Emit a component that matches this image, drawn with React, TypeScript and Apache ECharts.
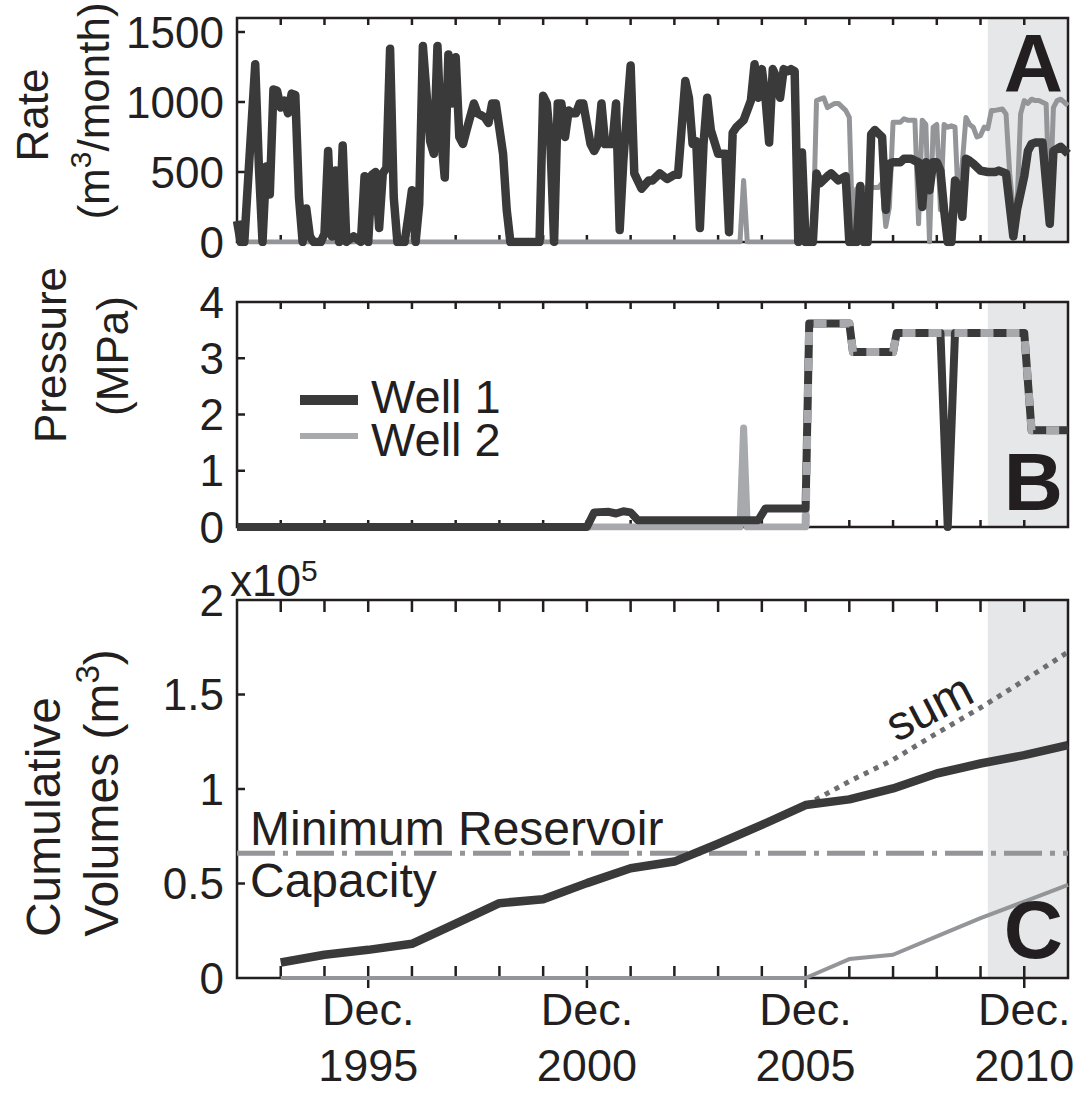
import React, { useEffect, useRef } from "react";
import * as echarts from "echarts";

// x values are month indices counted from Dec. 1992 (0) to Dec. 2011 (228)
const xMonthMax = 228;
const yearTickMonths = [12, 24, 36, 48, 60, 72, 84, 96, 108, 120, 132, 144, 156, 168, 180, 192, 204, 216];
const labelMonths = [36, 96, 156, 216]; // Dec. 1995, 2000, 2005, 2010
const shadedStartMonth = 206;

// Panel A: injection rate (m3/month)
const rateWell1: [number, number][] = [
  [0,150],[1,0],[2,0],[5,1270],[6,540],[7,0],[8,540],[9,340],[10,1090],[11,1080],[12,960],[13,1010],[14,920],[15,1060],[16,1050],[17,320],[18,0],[19,240],[20,40],[21,0],[23,0],[24,60],[25,650],[26,40],[27,510],[28,0],[29,690],[30,0],[32,40],[34,0],[35,470],[36,0],[37,480],[38,500],[39,100],[40,490],[41,530],[42,1380],[43,320],[44,0],[46,0],[47,180],[48,370],[49,0],[50,270],[51,1400],[52,1060],[53,720],[54,630],[55,1400],[56,750],[57,460],[58,1340],[59,990],[60,1320],[61,750],[62,700],[63,800],[65,990],[66,920],[68,890],[69,850],[70,990],[71,990],[73,630],[74,230],[75,0],[83,0],[84,1045],[85,990],[86,700],[87,0],[88,990],[89,990],[90,750],[91,940],[92,920],[93,920],[94,990],[95,990],[97,700],[98,650],[99,700],[100,990],[101,700],[103,700],[104,990],[105,85],[106,580],[108,1260],[109,490],[111,380],[113,440],[114,440],[116,490],[118,450],[120,480],[121,480],[123,1150],[124,1030],[125,700],[126,720],[127,100],[128,700],[129,1030],[130,800],[132,630],[134,630],[135,70],[136,780],[137,820],[139,870],[141,1010],[142,1270],[143,1030],[144,1235],[145,1030],[146,710],[147,1235],[148,1175],[149,1030],[150,1235],[151,1220],[152,1235],[153,1220],[154,0],[155,640],[156,0],[158,0],[159,490],[160,420],[162,470],[163,490],[165,440],[167,470],[168,0],[170,0],[171,400],[172,0],[173,0],[174,770],[175,800],[177,750],[178,230],[179,560],[180,570],[182,570],[183,595],[185,595],[186,580],[187,570],[188,250],[189,570],[190,370],[191,570],[192,570],[193,510],[194,230],[195,0],[196,0],[197,440],[198,390],[199,180],[200,595],[201,580],[202,560],[204,510],[206,500],[208,500],[209,510],[211,490],[213,40],[214,230],[216,470],[217,650],[218,700],[219,710],[221,710],[223,130],[224,650],[226,680],[228,630]
];
const rateWell2: [number, number][] = [
  [0,0],[138,0],[139,440],[140,0],[158,0],[159,1010],[160,1020],[161,1030],[162,960],[164,990],[165,990],[167,940],[168,890],[169,0],[170,380],[174,390],[176,390],[177,420],[178,110],[179,250],[180,855],[182,855],[183,880],[184,870],[186,870],[187,130],[188,870],[189,840],[190,0],[191,820],[192,840],[193,230],[194,840],[195,820],[196,830],[197,820],[198,230],[200,890],[201,840],[202,820],[203,750],[204,760],[205,820],[206,810],[207,940],[208,940],[210,950],[211,915],[212,490],[213,230],[214,250],[215,915],[216,1010],[217,990],[218,1020],[219,1010],[220,1010],[222,986],[223,230],[224,960],[225,1010],[226,1020],[228,975]
];

// Panel B: wellhead pressure (MPa)
const pressureWell1: [number, number][] = [
  [0,0],[96,0],[98,0.26],[102,0.27],[104,0.24],[106,0.28],[108,0.26],[110,0.12],[143,0.12],[145,0.33],[156,0.33],[157,3.62],[168,3.62],[169,3.11],[180,3.11],[181,3.45],[193,3.45],[195,0],[197,3.45],[216,3.45],[218,1.72],[228,1.72]
];
const pressureWell2: [number, number][] = [
  [0,0],[138,0],[139,1.76],[140,0],[156,0],[157,3.62],[168,3.62],[169,3.11],[180,3.11],[181,3.45],[216,3.45],[218,1.72],[228,1.72]
];
const pressureOverlapStart = 156;

// Panel C: cumulative volumes (m3), yearly at December (1993..2011)
const cumMonths = [12,24,36,48,60,72,84,96,108,120,132,144,156,168,180,192,204,216,228];
const cumWell1 = [8200,12300,14900,18100,28800,39600,41700,50200,58100,61600,71000,81000,91500,94500,100300,108200,113500,117900,123200];
const cumWell2 = [0,0,0,0,0,0,0,0,0,0,0,0,0,10000,12300,22000,31700,40400,49300];
const sumMonths = [156,168,180,192,204,216,228];
const cumSum = [91500,104000,115500,129500,143000,157500,172500];
const minReservoirCapacity = 66000;

const rateTicks = { min: 0, max: 1600, interval: 500, inner: [500, 1000, 1500] };
const pressureTicks = { min: 0, max: 4, interval: 1, inner: [1, 2, 3] };
const volumeTicks = { min: 0, max: 200000, interval: 50000, inner: [50000, 100000, 150000] };

const FONT = "'Liberation Sans', Arial, Helvetica, sans-serif";
const INK = "#231f20";
const DARK = "#3a3a3a";
const GRAY = "#939598";
const LIGHT = "#a7a9ac";
const DOT = "#6d6e71";
const SHADE = "#e6e7e8";

const gridBoxes = [
  { left: 237, top: 18, width: 831, height: 224 },
  { left: 237, top: 302, width: 831, height: 225 },
  { left: 237, top: 600, width: 831, height: 378 },
];

function buildOption() {
  const grid = gridBoxes.map((g) => ({
    ...g,
    show: true,
    z: 1,
    backgroundColor: "transparent",
    borderColor: INK,
    borderWidth: 2.5,
    containLabel: false,
    outerBoundsMode: "none",
  }));

  const xAx = (gridIndex: number, position: string, labels: boolean) => ({
    type: "value",
    gridIndex,
    position,
    min: 0,
    max: xMonthMax,
    interval: 12,
    axisLine: { show: false },
    splitLine: { show: false },
    axisTick: { show: false },
    axisLabel: labels
      ? {
          show: true,
          color: INK,
          fontFamily: FONT,
          fontSize: 45,
          lineHeight: 56,
          margin: 3,
          formatter: (v: number) => {
            const m = Math.round(v);
            return labelMonths.includes(m) ? `Dec.\n${1992 + m / 12}` : "";
          },
        }
      : { show: false },
  });

  const xAxis: any[] = [
    xAx(0, "bottom", false),
    xAx(1, "bottom", false),
    xAx(2, "bottom", true),
  ];

  const yAx = (gridIndex: number, t: any, fmt: (v: number) => string) => ({
    type: "value",
    gridIndex,
    position: "left",
    min: t.min,
    max: t.max,
    interval: t.interval,
    axisLine: { show: false },
    splitLine: { show: false },
    axisTick: { show: false },
    axisLabel: {
      color: INK,
      fontFamily: FONT,
      fontSize: 44,
      margin: 13,
      showMaxLabel: t.max % t.interval === 0,
      formatter: fmt,
    },
  });

  const yAxis = [
    yAx(0, rateTicks, (v) => (v > 1500 ? "" : String(v))),
    yAx(1, pressureTicks, (v) => String(v)),
    yAx(2, volumeTicks, (v) => String(v / 1e5)),
  ];

  const shade = (xi: number, yi: number, top: number) => ({
    type: "line",
    xAxisIndex: xi,
    yAxisIndex: yi,
    data: [
      [shadedStartMonth, top],
      [xMonthMax, top],
    ],
    symbol: "none",
    silent: true,
    z: 0,
    lineStyle: { width: 0 },
    areaStyle: { color: SHADE, opacity: 1 },
  });

  const line = (xi: number, yi: number, data: any[], color: string, width: number, z: number, type: any = "solid") => ({
    type: "line",
    xAxisIndex: xi,
    yAxisIndex: yi,
    data,
    symbol: "none",
    showSymbol: false,
    silent: true,
    z,
    lineStyle: { color, width, type, cap: "butt", join: "round" },
  });

  // tick marks: short strokes whose positions come from the axes' own scales
  const ticks = (xi: number, yi: number, data: number[][], dx: number, dy: number, x0 = 0, y0 = 0) => ({
    type: "custom",
    xAxisIndex: xi,
    yAxisIndex: yi,
    data,
    silent: true,
    clip: false,
    z: 1,
    renderItem: (params: any, api: any) => {
      const p = api.coord([api.value(0), api.value(1)]);
      return {
        type: "line",
        shape: { x1: p[0] + x0, y1: p[1] + y0, x2: p[0] + x0 + dx, y2: p[1] + y0 + dy },
        style: { stroke: INK, lineWidth: 2.5 },
      };
    },
  });

  const panelTicks = (i: number, t: any, len: number) => [
    ticks(i, i, yearTickMonths.map((m) => [m, t.min]), 0, -len),
    ticks(i, i, yearTickMonths.map((m) => [m, t.max]), 0, len),
    ticks(i, i, t.inner.map((v: number) => [0, v]), 8, 0),
  ];

  const series = [
    shade(0, 0, rateTicks.max),
    ...panelTicks(0, rateTicks, 7),
    line(0, 0, rateWell2, GRAY, 5, 2),
    line(0, 0, rateWell1, DARK, 8.5, 3),

    shade(1, 1, pressureTicks.max),
    ...panelTicks(1, pressureTicks, 7),
    line(1, 1, pressureWell2, LIGHT, 7, 2),
    line(1, 1, pressureWell1, DARK, 8, 3),
    line(1, 1, pressureWell2.filter(([m]) => m >= pressureOverlapStart), LIGHT, 8, 4, [13, 13]),

    shade(2, 2, volumeTicks.max),
    ...panelTicks(2, volumeTicks, 12),
    ticks(2, 2, labelMonths.map((m) => [m, volumeTicks.min]), 0, 10),
    line(2, 2, [[0, minReservoirCapacity], [xMonthMax, minReservoirCapacity]], GRAY, 5, 2, [38, 8, 5, 8]),
    line(2, 2, cumMonths.map((m, i) => [m, cumWell2[i]]), GRAY, 4, 3),
    line(2, 2, sumMonths.map((m, i) => [m, cumSum[i]]), DOT, 5, 3, [5, 6]),
    line(2, 2, cumMonths.map((m, i) => [m, cumWell1[i]]), DARK, 8.5, 4),
  ];

  const t = (x: number, y: number, text: string, size: number, extra: any = {}, elExtra: any = {}) => ({
    type: "text",
    x,
    y,
    silent: true,
    z: 20,
    ...elExtra,
    style: {
      text,
      fill: INK,
      fontSize: size,
      fontFamily: FONT,
      textAlign: "left",
      textVerticalAlign: "middle",
      align: "left",
      verticalAlign: "middle",
      ...extra,
    },
  });

  const supRich = (raise: number, baseLH: number, size = 30) => ({
    s: {
      fontSize: size,
      fontFamily: FONT,
      fill: INK,
      verticalAlign: "top",
      lineHeight: baseLH - 2 * raise,
    },
  });

  const rot = { rotation: Math.PI / 2 };
  const ctr = { textAlign: "center", align: "center" };

  const graphic = [
    // y-axis names
    t(32, 115, "Rate", 44, ctr, rot),
    t(93, 111, "(m{s|3}/month)", 44, { ...ctr, lineHeight: 56, rich: supRich(15, 56) }, rot),
    t(50, 355, "Pressure", 44, ctr, rot),
    t(112, 356, "(MPa)", 44, ctr, rot),
    t(43, 817, "Cumulative", 48, ctr, rot),
    t(101, 793, "Volumes (m{s|3})", 48, { ...ctr, lineHeight: 60, rich: supRich(16, 60, 33) }, rot),
    // exponent
    t(230, 580, "x10{s|5}", 44, { lineHeight: 50, rich: supRich(10, 50) }),
    // legend
    { type: "line", silent: true, z: 20, shape: { x1: 300, y1: 400, x2: 358, y2: 400 }, style: { stroke: DARK, lineWidth: 10 } },
    { type: "line", silent: true, z: 20, shape: { x1: 300, y1: 436, x2: 358, y2: 436 }, style: { stroke: LIGHT, lineWidth: 6 } },
    t(371, 396, "Well 1", 47, { lineHeight: 40 }),
    t(371, 439, "Well 2", 47, { lineHeight: 40 }),
    // annotations
    t(250, 828, "Minimum Reservoir", 48),
    t(250, 880, "Capacity", 48),
    t(929, 707, "sum", 48, ctr, { rotation: 0.48 }),
    // panel letters
    t(1063, 62, "A", 82, { textAlign: "right", align: "right", fontWeight: "bold" }),
    t(1063, 481, "B", 82, { textAlign: "right", align: "right", fontWeight: "bold" }),
    t(1063, 929, "C", 82, { textAlign: "right", align: "right", fontWeight: "bold" }),
  ];

  return {
    animation: false,
    backgroundColor: "#ffffff",
    textStyle: { fontFamily: FONT },
    grid,
    xAxis,
    yAxis,
    series,
    graphic,
  };
}

export default function App() {
  const ref = useRef<HTMLDivElement>(null);
  useEffect(() => {
    if (!ref.current) return;
    const chart = echarts.init(ref.current, undefined, { renderer: "svg" });
    chart.setOption(buildOption() as any);
    return () => chart.dispose();
  }, []);
  return (
    <div
      ref={ref}
      style={{ position: "fixed", left: 0, top: 0, width: 1089, height: 1094, background: "#fff" }}
    />
  );
}
